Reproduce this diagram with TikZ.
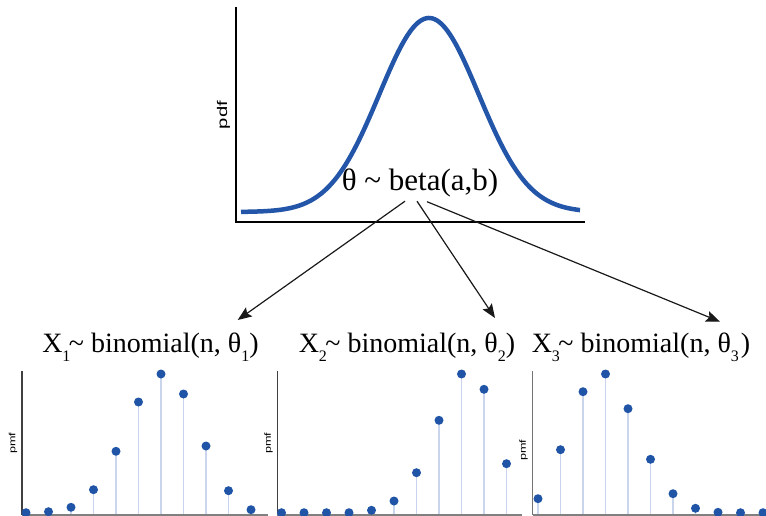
\documentclass[tikz,border=0pt]{standalone}
\usepackage{fontspec}
\usepackage{graphicx}
\setmainfont{Liberation Serif}
\newfontfamily\axisfont{Liberation Sans}
\usetikzlibrary{arrows.meta}
\definecolor{curveblue}{HTML}{2356A8}
\definecolor{dotblue}{HTML}{2054A6}
\definecolor{stemblue}{HTML}{C8D5EC}
\newcommand{\lowsub}[1]{\raisebox{-0.35em}{\fontsize{16}{16}\selectfont #1}}
\begin{document}
\begin{tikzpicture}[x=1pt,y=-1pt,line width=1.2pt,
  stem/.style={color=stemblue,line width=1.5pt},
  dot/.style={fill=dotblue},
  paxis/.style={color=black!75,line width=1.4pt},
  arr/.style={-{Stealth[length=14pt,width=11pt,inset=2.5pt]},line width=1.2pt,color=black!90},
  title/.style={anchor=base,inner sep=0pt,font=\fontsize{28}{34}\selectfont},
  ylab/.style={rotate=90,inner sep=0pt,font=\axisfont}]
\useasboundingbox (0,0) rectangle (766,516);
% beta prior
\draw [] (236,7) -- (236,222) -- (585,222);
\draw [color=curveblue,line width=4.5pt] plot[domain=241:580,samples=160,smooth] (\x,{212-194*exp(-0.5*((\x-429)/49.7)^2)});
\node[ylab] (pdf) at (223.5,115) {\fontsize{14}{14}\selectfont\scalebox{1.45}[1]{pdf}};
\node[anchor=base,inner sep=0pt,font=\fontsize{31}{37}\selectfont] (beta) at (420,190.5) {θ \textasciitilde\ beta(a,b)};
% binomial titles
\node[title] (x1) at (150.5,352) {X\lowsub{1}\kern-1.5pt\textasciitilde\ binomial(n, θ\lowsub{1})};
\node[title] (x2) at (407,352) {X\lowsub{2}\kern-1.5pt\textasciitilde\ binomial(n, θ\lowsub{2})};
\node[title] (x3) at (641,352) {X\lowsub{3}\kern-1.5pt\textasciitilde\ binomial(n, θ\lowsub{3}\kern2pt)};
\coordinate (e1) at (237.7,320);
\coordinate (e2) at (495,318);
\coordinate (e3) at (720,321.7);
\draw [arr] ([xshift=-15pt,yshift=-3.5pt]beta.south) -- (e1);
\draw [arr] ([xshift=-3pt,yshift=-3.5pt]beta.south) -- (e2);
\draw [arr] ([xshift=7pt,yshift=-4pt]beta.south) -- (e3);
% panel 1
\node[ylab] (pmf1) at (13,443) {\fontsize{9}{9}\selectfont\scalebox{1.4}[1]{pmf}};
\draw [stem] (26,515) -- (26,512.7);
\draw [stem] (48.5,515) -- (48.5,511.7);
\draw [stem] (71,515) -- (71,507.3);
\draw [stem] (93.5,515) -- (93.5,489.7);
\draw [stem] (116,515) -- (116,451.3);
\draw [stem] (138.5,515) -- (138.5,402);
\draw [stem] (161,515) -- (161,374);
\draw [stem] (183.5,515) -- (183.5,394);
\draw [stem] (206,515) -- (206,446);
\draw [stem] (228.5,515) -- (228.5,490.7);
\draw [stem] (251,515) -- (251,509.7);
\draw [paxis] (22,371) -- (22,515);
\draw [paxis,color=black!50] (22,515) -- (268,515);
\fill [dot] (26,512.7) circle [radius=4.5pt];
\fill [dot] (48.5,511.7) circle [radius=4.5pt];
\fill [dot] (71,507.3) circle [radius=4.5pt];
\fill [dot] (93.5,489.7) circle [radius=4.5pt];
\fill [dot] (116,451.3) circle [radius=4.5pt];
\fill [dot] (138.5,402) circle [radius=4.5pt];
\fill [dot] (161,374) circle [radius=4.5pt];
\fill [dot] (183.5,394) circle [radius=4.5pt];
\fill [dot] (206,446) circle [radius=4.5pt];
\fill [dot] (228.5,490.7) circle [radius=4.5pt];
\fill [dot] (251,509.7) circle [radius=4.5pt];
% panel 2
\node[ylab] (pmf2) at (268.5,443) {\fontsize{9}{9}\selectfont\scalebox{1.4}[1]{pmf}};
\draw [stem] (281.5,515) -- (281.5,512.7);
\draw [stem] (304,515) -- (304,512.7);
\draw [stem] (326.5,515) -- (326.5,512.7);
\draw [stem] (349,515) -- (349,512.7);
\draw [stem] (371.5,515) -- (371.5,510.3);
\draw [stem] (394,515) -- (394,501);
\draw [stem] (416.5,515) -- (416.5,472.7);
\draw [stem] (439,515) -- (439,420.3);
\draw [stem] (461.5,515) -- (461.5,374);
\draw [stem] (484,515) -- (484,389.3);
\draw [stem] (506.5,515) -- (506.5,463.7);
\draw [paxis] (277.3,371) -- (277.3,515);
\draw [paxis,color=black!50] (277.3,515) -- (522,515);
\fill [dot] (281.5,512.7) circle [radius=4.5pt];
\fill [dot] (304,512.7) circle [radius=4.5pt];
\fill [dot] (326.5,512.7) circle [radius=4.5pt];
\fill [dot] (349,512.7) circle [radius=4.5pt];
\fill [dot] (371.5,510.3) circle [radius=4.5pt];
\fill [dot] (394,501) circle [radius=4.5pt];
\fill [dot] (416.5,472.7) circle [radius=4.5pt];
\fill [dot] (439,420.3) circle [radius=4.5pt];
\fill [dot] (461.5,374) circle [radius=4.5pt];
\fill [dot] (484,389.3) circle [radius=4.5pt];
\fill [dot] (506.5,463.7) circle [radius=4.5pt];
% panel 3
\node[ylab] (pmf3) at (523.5,450) {\fontsize{9}{9}\selectfont\scalebox{1.4}[1]{pmf}};
\draw [stem] (538,515) -- (538,498.7);
\draw [stem] (560.5,515) -- (560.5,449.7);
\draw [stem] (583,515) -- (583,391.7);
\draw [stem] (605.5,515) -- (605.5,374);
\draw [stem] (628,515) -- (628,408.7);
\draw [stem] (650.5,515) -- (650.5,459.3);
\draw [stem] (673,515) -- (673,493.7);
\draw [stem] (695.5,515) -- (695.5,508.3);
\draw [stem] (718,515) -- (718,512.3);
\draw [stem] (740.5,515) -- (740.5,512.7);
\draw [stem] (763,515) -- (763,512.7);
\draw [paxis,color=black!55] (532.7,371) -- (532.7,515);
\draw [paxis,color=black!50] (532.7,515) -- (766,515);
\fill [dot] (538,498.7) circle [radius=4.5pt];
\fill [dot] (560.5,449.7) circle [radius=4.5pt];
\fill [dot] (583,391.7) circle [radius=4.5pt];
\fill [dot] (605.5,374) circle [radius=4.5pt];
\fill [dot] (628,408.7) circle [radius=4.5pt];
\fill [dot] (650.5,459.3) circle [radius=4.5pt];
\fill [dot] (673,493.7) circle [radius=4.5pt];
\fill [dot] (695.5,508.3) circle [radius=4.5pt];
\fill [dot] (718,512.3) circle [radius=4.5pt];
\fill [dot] (740.5,512.7) circle [radius=4.5pt];
\fill [dot] (763,512.7) circle [radius=4.5pt];
\end{tikzpicture}
\end{document}
